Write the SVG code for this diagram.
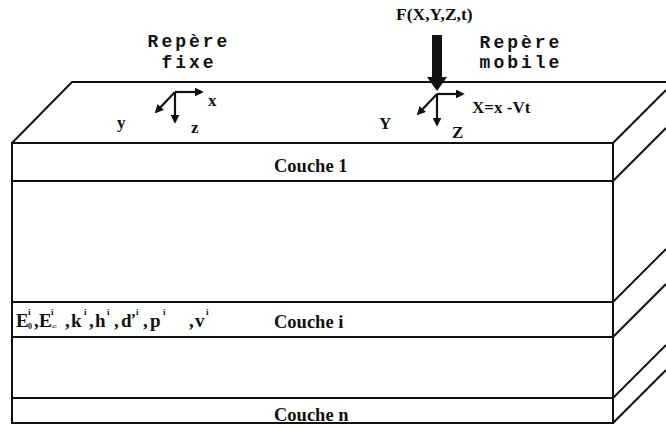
<svg xmlns="http://www.w3.org/2000/svg" width="666" height="428" viewBox="0 0 666 428">
<style>
.edge{stroke:#111;stroke-width:2;fill:none}
.ax{stroke:#111;stroke-width:2.2;fill:none}
.lbl{font-family:"Liberation Serif","Times New Roman",serif;font-weight:bold;fill:#111}
.mono{font-family:"Liberation Mono","Courier New",monospace;font-weight:bold;fill:#111;font-size:18px;letter-spacing:3px}
.sup{font-size:9px}
.sub{font-size:8px}
</style>
<defs>
<marker id="ah" viewBox="0 0 10 10" refX="8" refY="5" markerWidth="4" markerHeight="4" orient="auto" markerUnits="strokeWidth">
<path d="M0,0 L10,5 L0,10 Z" fill="#111"/>
</marker>
</defs>
<rect width="666" height="428" fill="#fff"/>
<g id="block">
<path class="edge" d="M12,143 L72,82 L666,82"/>
<rect class="edge" x="12" y="143" width="601" height="280"/>
<path class="edge" d="M613,143 L666,90 M613,181 L666,128 M613,302 L666,249 M613,337 L666,284 M613,398 L666,345 M613,423 L666,370"/>
</g>
<g id="layers">
<g id="couche1">
<line class="edge" x1="12" y1="181" x2="613" y2="181"/>
<text class="lbl" x="274" y="172" font-size="18.5">Couche 1</text>
</g>
<g id="couchei">
<line class="edge" x1="12" y1="302" x2="613" y2="302"/>
<line class="edge" x1="12" y1="337" x2="613" y2="337"/>
<text class="lbl" x="274" y="328" font-size="18.5">Couche i</text>
<text class="lbl" font-size="19"><tspan x="16" y="327">E</tspan><tspan class="sup" x="28" y="315">i</tspan><tspan class="sub" x="28" y="329">0</tspan><tspan x="34" y="327">,</tspan><tspan x="39" y="327">E</tspan><tspan class="sup" x="51" y="315">i</tspan><tspan class="sub" x="51" y="329">∞</tspan><tspan x="65" y="327">,</tspan><tspan x="71" y="327">k</tspan><tspan class="sup" x="84" y="315">i</tspan><tspan x="89" y="327">,</tspan><tspan x="95" y="327">h</tspan><tspan class="sup" x="107" y="315">i</tspan><tspan x="114" y="327">,</tspan><tspan x="121" y="327">ď</tspan><tspan class="sup" x="136" y="315">i</tspan><tspan x="143" y="327">,</tspan><tspan x="150" y="327">p</tspan><tspan class="sup" x="163" y="315">i</tspan><tspan x="189" y="327">,</tspan><tspan x="195" y="327">v</tspan><tspan class="sup" x="206" y="315">i</tspan></text>
</g>
<g id="couchen">
<line class="edge" x1="12" y1="398" x2="613" y2="398"/>
<text class="lbl" x="274" y="421" font-size="18.5">Couche n</text>
</g>
</g>
<g id="repere-fixe">
<text class="mono" x="189" y="47" text-anchor="middle">Repère</text>
<text class="mono" x="189" y="68" text-anchor="middle">fixe</text>
<path class="ax" d="M175,92 L202,92" marker-end="url(#ah)"/>
<path class="ax" d="M175,92 L175,122" marker-end="url(#ah)"/>
<path class="ax" d="M175,92 L156,112" marker-end="url(#ah)"/>
<text class="lbl" x="208" y="106" font-size="17">x</text>
<text class="lbl" x="191" y="133" font-size="17">z</text>
<text class="lbl" x="117" y="128" font-size="17">y</text>
</g>
<g id="repere-mobile">
<text class="mono" x="521" y="48" text-anchor="middle">Repère</text>
<text class="mono" x="521" y="68" text-anchor="middle">mobile</text>
<path class="ax" d="M437,94 L463,94" marker-end="url(#ah)"/>
<path class="ax" d="M437,94 L437,125" marker-end="url(#ah)"/>
<path class="ax" d="M437,94 L418,114" marker-end="url(#ah)"/>
<text class="lbl" x="472" y="113" font-size="17">X=x -Vt</text>
<text class="lbl" x="452" y="138" font-size="17">Z</text>
<text class="lbl" x="379" y="129" font-size="17">Y</text>
</g>
<g id="force">
<text class="lbl" x="396" y="20" font-size="17.5">F(X,Y,Z,t)</text>
<path d="M432,35 L442,35 L442,77 L447,77 L437,91 L427,77 L432,77 Z" fill="#111"/>
</g>
</svg>
